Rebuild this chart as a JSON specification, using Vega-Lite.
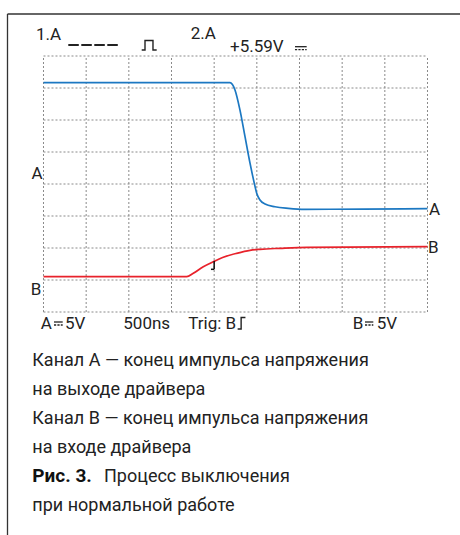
{
  "$schema": "https://vega.github.io/schema/vega-lite/v6.json",
  "width": 460,
  "height": 535,
  "autosize": {"type": "none"},
  "padding": 0,
  "background": "white",
  "config": {"view": {"stroke": null}},
  "datasets": {
    "grid": [
      {"x": 0, "x2": 0, "y": 0, "y2": 8},
      {"x": 1, "x2": 1, "y": 0, "y2": 8},
      {"x": 2, "x2": 2, "y": 0, "y2": 8},
      {"x": 3, "x2": 3, "y": 0, "y2": 8},
      {"x": 4, "x2": 4, "y": 0, "y2": 8},
      {"x": 5, "x2": 5, "y": 0, "y2": 8},
      {"x": 6, "x2": 6, "y": 0, "y2": 8},
      {"x": 7, "x2": 7, "y": 0, "y2": 8},
      {"x": 8, "x2": 8, "y": 0, "y2": 8},
      {"x": 9, "x2": 9, "y": 0, "y2": 8},
      {"x": 0, "x2": 9, "y": 0, "y2": 0},
      {"x": 0, "x2": 9, "y": 1, "y2": 1},
      {"x": 0, "x2": 9, "y": 2, "y2": 2},
      {"x": 0, "x2": 9, "y": 3, "y2": 3},
      {"x": 0, "x2": 9, "y": 4, "y2": 4},
      {"x": 0, "x2": 9, "y": 5, "y2": 5},
      {"x": 0, "x2": 9, "y": 6, "y2": 6},
      {"x": 0, "x2": 9, "y": 7, "y2": 7},
      {"x": 0, "x2": 9, "y": 8, "y2": 8}
    ],
    "frame": [
      {"x": -0.84375, "x2": -0.84375, "y": 9.3125, "y2": -6.96875},
      {"x": -0.84375, "x2": 9.76172, "y": 9.3125, "y2": 9.3125}
    ],
    "traces": [
      {"ch": "A", "x": 0, "y": 7.166},
      {"ch": "A", "x": 4.371, "y": 7.166},
      {"ch": "A", "x": 4.488, "y": 6.94},
      {"ch": "A", "x": 4.605, "y": 6.31},
      {"ch": "A", "x": 4.723, "y": 5.48},
      {"ch": "A", "x": 4.84, "y": 4.65},
      {"ch": "A", "x": 4.941, "y": 4.02},
      {"ch": "A", "x": 4.997, "y": 3.71},
      {"ch": "A", "x": 5.074, "y": 3.5},
      {"ch": "A", "x": 5.191, "y": 3.375},
      {"ch": "A", "x": 5.426, "y": 3.29},
      {"ch": "A", "x": 5.737, "y": 3.24},
      {"ch": "A", "x": 6.129, "y": 3.21},
      {"ch": "A", "x": 7.5, "y": 3.215},
      {"ch": "A", "x": 9, "y": 3.23},
      {"ch": "B", "x": 0, "y": 1.103},
      {"ch": "B", "x": 3.356, "y": 1.103},
      {"ch": "B", "x": 3.511, "y": 1.209},
      {"ch": "B", "x": 3.745, "y": 1.416},
      {"ch": "B", "x": 3.98, "y": 1.572},
      {"ch": "B", "x": 4.214, "y": 1.709},
      {"ch": "B", "x": 4.528, "y": 1.834},
      {"ch": "B", "x": 4.84, "y": 1.928},
      {"ch": "B", "x": 5.074, "y": 1.959},
      {"ch": "B", "x": 5.543, "y": 1.991},
      {"ch": "B", "x": 6.169, "y": 2.022},
      {"ch": "B", "x": 9, "y": 2.041}
    ],
    "trig": [
      {"x": 4.0, "x2": 4.0, "y": 1.594, "y2": 1.334},
      {"x": 3.925, "x2": 4.0, "y": 1.334, "y2": 1.334}
    ],
    "dashes": [
      {"x": 0.581, "x2": 1.753, "y": 8.34375, "y2": 8.34375}
    ],
    "symbols": [
      {"g": "pulse", "i": 0, "x": 2.3016, "y": 8.1875},
      {"g": "pulse", "i": 1, "x": 2.379, "y": 8.1875},
      {"g": "pulse", "i": 2, "x": 2.379, "y": 8.484},
      {"g": "pulse", "i": 3, "x": 2.566, "y": 8.484},
      {"g": "pulse", "i": 4, "x": 2.566, "y": 8.1875},
      {"g": "pulse", "i": 5, "x": 2.653, "y": 8.1875},
      {"g": "edge", "i": 0, "x": 4.55, "y": -0.53125},
      {"g": "edge", "i": 1, "x": 4.632, "y": -0.53125},
      {"g": "edge", "i": 2, "x": 4.632, "y": -0.1719},
      {"g": "edge", "i": 3, "x": 4.733, "y": -0.1719}
    ],
    "dcSolid": [
      {"x": 5.894, "x2": 6.168, "y": 8.291, "y2": 8.291},
      {"x": 0.2461, "x2": 0.45, "y": -0.3125, "y2": -0.3125},
      {"x": 7.535, "x2": 7.73, "y": -0.3125, "y2": -0.3125}
    ],
    "dcDash": [
      {"x": 5.894, "x2": 6.168, "y": 8.197, "y2": 8.197},
      {"x": 0.2461, "x2": 0.45, "y": -0.40625, "y2": -0.40625},
      {"x": 7.535, "x2": 7.73, "y": -0.40625, "y2": -0.40625}
    ],
    "scopeLabels": [
      {"x": -0.1758, "y": 8.5, "text": "1.A"},
      {"x": 3.45, "y": 8.516, "text": "2.A"},
      {"x": 4.371, "y": 8.134, "text": "+5.59V"},
      {"x": -0.0656, "y": -0.53125, "text": "A"},
      {"x": 0.504, "y": -0.53125, "text": "5V"},
      {"x": 1.87, "y": -0.53125, "text": "500ns"},
      {"x": 3.394, "y": -0.53125, "text": "Trig: B"},
      {"x": 7.247, "y": -0.53125, "text": "B"},
      {"x": 7.809, "y": -0.53125, "text": "5V"},
      {"x": -0.281, "y": 4.156, "text": "A"},
      {"x": -0.3, "y": 0.531, "text": "B"},
      {"x": 9.035, "y": 3.031, "text": "A"},
      {"x": 9.012, "y": 1.844, "text": "B"}
    ],
    "caption": [
      {"x": -0.2625, "y": -1.703, "text": "Канал А — конец импульса напряжения"},
      {"x": -0.2625, "y": -2.594, "text": "на выходе драйвера"},
      {"x": -0.2625, "y": -3.5, "text": "Канал В — конец импульса напряжения"},
      {"x": -0.2625, "y": -4.406, "text": "на входе драйвера"},
      {"x": 1.418, "y": -5.3125, "text": "Процесс выключения"},
      {"x": -0.2625, "y": -6.234, "text": "при нормальной работе"}
    ],
    "captionBold": [
      {"x": -0.2625, "y": -5.3125, "text": "Рис. 3."}
    ]
  },
  "encoding": {
    "x": {"field": "x", "type": "quantitative", "axis": null,
          "scale": {"domain": [-1.01953, 9.76172], "nice": false, "zero": false}},
    "y": {"field": "y", "type": "quantitative", "axis": null,
          "scale": {"domain": [-6.96875, 9.75], "nice": false, "zero": false}}
  },
  "layer": [
    {
      "data": {"name": "grid"},
      "mark": {"type": "rule", "color": "#8a8a8a", "strokeWidth": 1, "strokeDash": [2, 2]},
      "encoding": {"x2": {"field": "x2"}, "y2": {"field": "y2"}}
    },
    {
      "data": {"name": "frame"},
      "mark": {"type": "rule", "color": "#333333", "strokeWidth": 1.3},
      "encoding": {"x2": {"field": "x2"}, "y2": {"field": "y2"}}
    },
    {
      "data": {"name": "traces"},
      "mark": {"type": "line", "strokeWidth": 1.7, "interpolate": "monotone"},
      "encoding": {
        "color": {"field": "ch", "type": "nominal", "legend": null,
                  "scale": {"domain": ["A", "B"], "range": ["#1c78c2", "#e8222b"]}},
        "order": {"field": "x", "type": "quantitative"}
      }
    },
    {
      "data": {"name": "trig"},
      "mark": {"type": "rule", "color": "#111111", "strokeWidth": 1.5},
      "encoding": {"x2": {"field": "x2"}, "y2": {"field": "y2"}}
    },
    {
      "data": {"name": "dashes"},
      "mark": {"type": "rule", "color": "#222222", "strokeWidth": 2, "strokeDash": [10.5, 2.5]},
      "encoding": {"x2": {"field": "x2"}, "y2": {"field": "y2"}}
    },
    {
      "data": {"name": "symbols"},
      "mark": {"type": "line", "color": "#222222", "strokeWidth": 1.4},
      "encoding": {
        "detail": {"field": "g", "type": "nominal"},
        "order": {"field": "i", "type": "quantitative"}
      }
    },
    {
      "data": {"name": "dcSolid"},
      "mark": {"type": "rule", "color": "#222222", "strokeWidth": 1.3},
      "encoding": {"x2": {"field": "x2"}, "y2": {"field": "y2"}}
    },
    {
      "data": {"name": "dcDash"},
      "mark": {"type": "rule", "color": "#222222", "strokeWidth": 1.3, "strokeDash": [2.2, 1.2]},
      "encoding": {"x2": {"field": "x2"}, "y2": {"field": "y2"}}
    },
    {
      "data": {"name": "scopeLabels"},
      "mark": {"type": "text", "align": "left", "baseline": "alphabetic", "font": "Roboto", "fontSize": 17, "color": "#222222"},
      "encoding": {"text": {"field": "text"}}
    },
    {
      "data": {"name": "caption"},
      "mark": {"type": "text", "align": "left", "baseline": "alphabetic", "font": "Roboto", "fontSize": 18, "color": "#222222"},
      "encoding": {"text": {"field": "text"}}
    },
    {
      "data": {"name": "captionBold"},
      "mark": {"type": "text", "align": "left", "baseline": "alphabetic", "font": "Roboto", "fontSize": 19, "fontWeight": "bold", "color": "#111111"},
      "encoding": {"text": {"field": "text"}}
    }
  ]
}
